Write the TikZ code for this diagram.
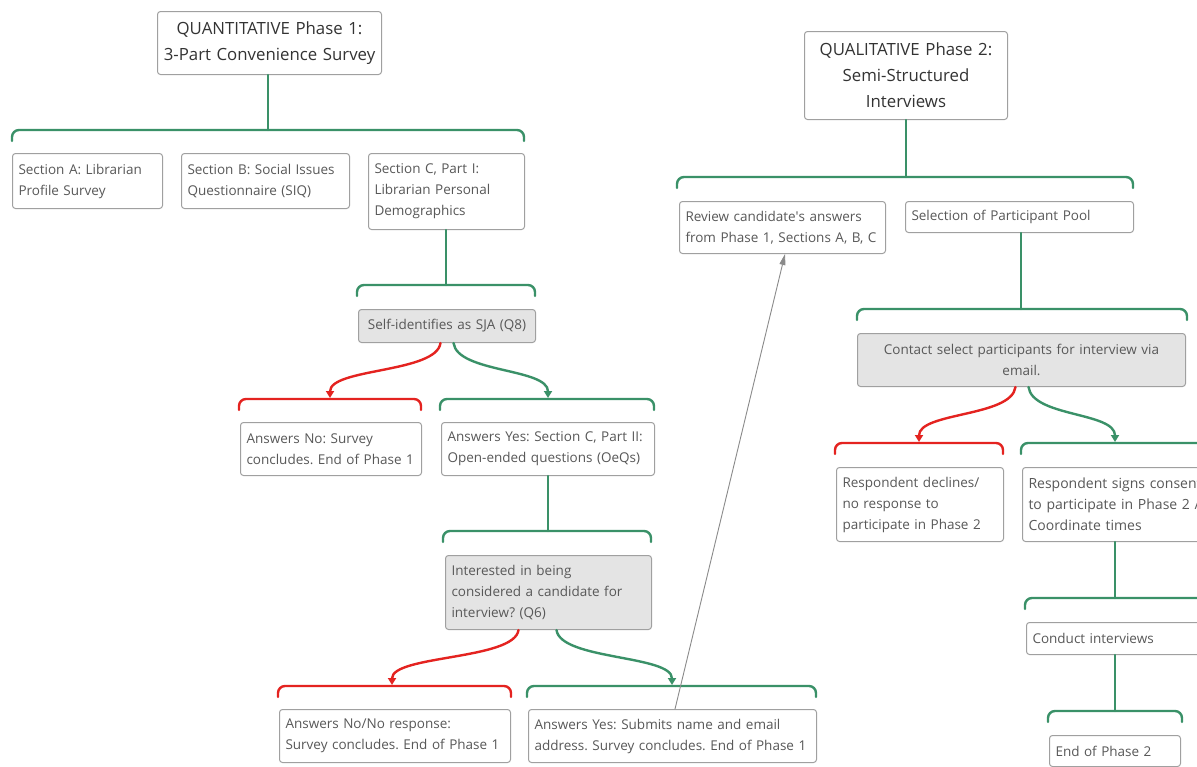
\documentclass[tikz,border=0pt]{standalone}
\usepackage{fontspec}
\setmainfont{Open Sans}
\usetikzlibrary{arrows.meta}
\definecolor{grn}{HTML}{3A9168}
\definecolor{rd}{HTML}{E42320}
\definecolor{bdr}{HTML}{A0A0A0}
\definecolor{txt}{HTML}{585858}
\definecolor{ttl}{HTML}{333333}
\definecolor{gfill}{HTML}{E4E4E4}
\definecolor{arrgray}{HTML}{8A8A8A}
\tikzset{
 box/.style={draw=bdr, line width=1pt, rounded corners=3pt, fill=white, anchor=north west,
   inner xsep=6pt, inner ysep=0pt, text=txt, font=\fontsize{13.5}{21}\selectfont, align=left},
 titlebox/.style={box, text=ttl, font=\fontsize{16.8}{25.5}\selectfont, align=center},
 qbox/.style={box, fill=gfill},
 gline/.style={draw=grn, line width=2.4pt, line cap=round},
 rline/.style={draw=rd, line width=2.4pt, line cap=round},
 tip/.style={-{Triangle[length=7pt,width=8pt]}},
 linkarrow/.style={draw=arrgray, line width=0.9pt, -{Triangle[length=11pt,width=6pt]}}
}
\newcommand\brk[4]{\draw[#1, rounded corners=7pt] (#2,#4+11) -- (#2,#4) -- (#3,#4) -- (#3,#4+11);}
\frenchspacing
\begin{document}
\begin{tikzpicture}[x=1pt,y=-1pt]
\useasboundingbox (0,0) rectangle (1197,766);
\clip (0,0) rectangle (1197,766);
\fill[white] (0,0) rectangle (1197,766);

% ---------- Phase 1 ----------
\node[titlebox, minimum width=224pt, minimum height=63pt, text width=214pt, inner xsep=5pt] (q1) at (157,11) {QUANTITATIVE Phase 1:\\3-Part Convenience Survey};
\node[box, minimum width=150pt, minimum height=55pt, text width=138pt] (secA) at (12,153) {Section A: Librarian\\Profile Survey};
\node[box, minimum width=168pt, minimum height=55pt, text width=156pt] (secB) at (181,153) {Section B: Social Issues\\Questionnaire (SIQ)};
\node[box, minimum width=156pt, minimum height=76pt, text width=144pt] (secC) at (368,153) {Section C, Part I:\\Librarian Personal\\Demographics};
\node[qbox, align=center, minimum width=177pt, minimum height=33pt, text width=171pt, inner xsep=3pt] (q8) at (358,309) {Self-identifies as SJA (Q8)};
\node[box, minimum width=181pt, minimum height=53pt, text width=173pt, inner xsep=4pt] (no1) at (240,422) {\hspace*{2pt}Answers No: Survey\\\hspace*{2pt}concludes. End of Phase 1};
\node[box, minimum width=213pt, minimum height=53pt, text width=205pt, inner xsep=4pt] (yes1) at (441,422) {\hspace*{2pt}Answers Yes: Section C, Part II:\\\hspace*{2pt}Open-ended questions (OeQs)};
\node[qbox, minimum width=206pt, minimum height=74pt, text width=194pt] (q6) at (445,555) {Interested in being\\considered a candidate for\\interview? (Q6)};
\node[box, minimum width=231pt, minimum height=53pt, text width=223pt, inner xsep=4pt] (no2) at (279,709) {\hspace*{2pt}Answers No/No response:\\\hspace*{2pt}Survey concludes. End of Phase 1};
\node[box, minimum width=288pt, minimum height=53pt, text width=280pt, inner xsep=4pt] (yes2) at (528,709) {\hspace*{2pt}Answers Yes: Submits name and email\\\hspace*{2pt}address. Survey concludes. End of Phase 1};

\coordinate (b1) at (268,130);
\coordinate (b2) at (446,285);
\coordinate (b4) at (548,531);
\draw[gline] (q1.south -| b1) -- (b1);
\brk{gline}{12}{524}{130}
\draw[gline] (secC.south -| b2) -- (b2);
\brk{gline}{357}{535}{285}
\coordinate (a3r) at (330,398);
\coordinate (a3g) at (548,398);
\draw[rline, tip] ([xshift=-6.5pt]q8.south) .. controls +(-4,30) and +(0,-30) .. (a3r);
\draw[gline, tip] ([xshift=6.5pt]q8.south) .. controls +(4,30) and +(0,-30) .. (a3g);
\brk{rline}{239}{421}{399}
\brk{gline}{440}{654}{399}
\draw[gline] (yes1.south -| b4) -- (b4);
\brk{gline}{443}{651}{531}
\coordinate (a5r) at (392,685);
\coordinate (a5g) at (672,685);
\draw[rline, tip] ([xshift=-30pt]q6.south) .. controls +(-4,30) and +(0,-30) .. (a5r);
\draw[gline, tip] ([xshift=8pt]q6.south) .. controls +(4,30) and +(0,-30) .. (a5g);
\brk{rline}{278}{511}{686}
\brk{gline}{527}{816}{686}

% ---------- Phase 2 ----------
\node[titlebox, minimum width=203pt, minimum height=88pt, text width=193pt, inner xsep=5pt, font=\fontsize{16.8}{26}\selectfont] (q2) at (804,31) {QUALITATIVE Phase 2:\\Semi-Structured\\Interviews};
\node[box, minimum width=206pt, minimum height=52pt, text width=200pt, inner xsep=3pt] (review) at (679,201) {\hspace*{3pt}Review candidate\textquotesingle s answers\\\hspace*{3pt}from Phase 1, Sections A, B, C};
\node[box, minimum width=228pt, minimum height=31pt, text width=216pt] (select) at (905,201) {Selection of Participant Pool};
\node[qbox, align=center, minimum width=328pt, minimum height=53pt, text width=316pt] (contact) at (857,333) {Contact select participants for interview via\\email.};
\node[box, minimum width=167pt, minimum height=74pt, text width=155pt] (decl) at (836,467) {Respondent declines/\\no response to\\participate in Phase 2};
\node[box, minimum width=200pt, minimum height=74pt, text width=188pt, font=\fontsize{14}{21}\selectfont] (consent) at (1022,467) {Respondent signs consent\\to participate in Phase 2 /\\Coordinate times};
\node[box, minimum width=200pt, minimum height=32pt, text width=188pt] (conduct) at (1026,622) {Conduct interviews};
\node[box, minimum width=131pt, minimum height=31pt, text width=119pt] (end2) at (1049,735) {End of Phase 2};

\coordinate (b6) at (906,177);
\coordinate (b7) at (1021,309);
\coordinate (b9) at (1115,598);
\coordinate (b10) at (1115,711);
\draw[gline] (q2.south -| b6) -- (b6);
\brk{gline}{677}{1133}{177}
\draw[gline] (select.south -| b7) -- (b7);
\brk{gline}{857}{1187}{309}
\coordinate (a8r) at (919,442);
\coordinate (a8g) at (1115,442);
\draw[rline, tip] ([xshift=-6pt]contact.south) .. controls +(-4,30) and +(0,-30) .. (a8r);
\draw[gline, tip] ([xshift=7pt]contact.south) .. controls +(4,30) and +(0,-30) .. (a8g);
\brk{rline}{835}{1003}{443}
\brk{gline}{1021}{1240}{443}
\draw[gline] (consent.south -| b9) -- (b9);
\brk{gline}{1025}{1240}{598}
\draw[gline] (conduct.south -| b10) -- (b10);
\brk{gline}{1048}{1182}{711}

% ---------- cross link ----------
\draw[linkarrow] ([xshift=147pt]yes2.north west) -- ([xshift=106pt]review.south west);
\end{tikzpicture}
\end{document}
